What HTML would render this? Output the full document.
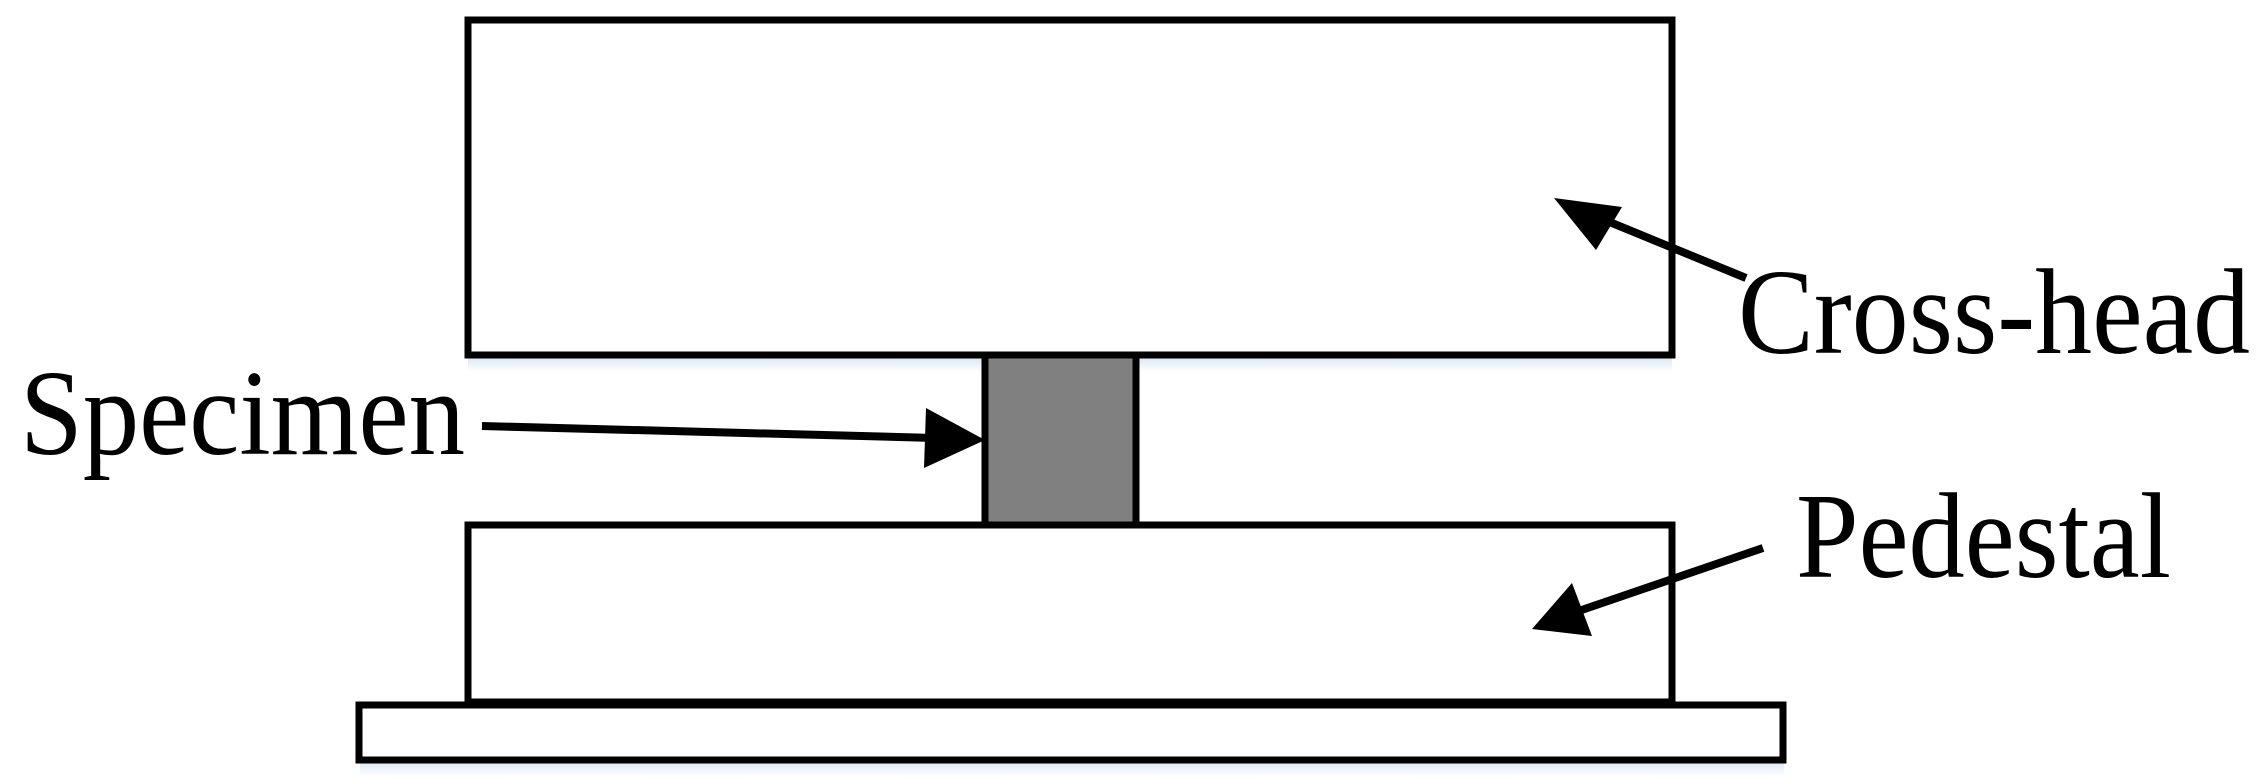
<!DOCTYPE html>
<html><head><meta charset="utf-8"><style>html,body{margin:0;padding:0;background:#fff}svg{display:block}</style></head>
<body>
<svg width="2262" height="782" viewBox="0 0 2262 782" xmlns="http://www.w3.org/2000/svg">
<defs>
<linearGradient id="sh" x1="0" y1="0" x2="0" y2="1"><stop offset="0" stop-color="#dce8f5"/><stop offset="1" stop-color="#ffffff"/></linearGradient>
</defs>
<rect x="468" y="358" width="1204" height="14" fill="url(#sh)"/>
<rect x="360" y="762" width="1424" height="14" fill="url(#sh)"/>
<g fill="#fff" stroke="#000" stroke-width="7">
<rect x="468" y="20" width="1204" height="335"/>
<rect x="468" y="525" width="1204" height="177"/>
<rect x="359" y="705" width="1424" height="55"/>
</g>
<rect x="985" y="355" width="151" height="170" fill="#808080" stroke="#000" stroke-width="7"/>
<g stroke="#000" stroke-width="8">
<line x1="1746" y1="278" x2="1590" y2="214"/>
<line x1="482" y1="426" x2="935" y2="438"/>
<line x1="1763" y1="548" x2="1570" y2="614"/>
</g>
<g fill="#000">
<polygon points="1554,198 1622,207 1596,250"/>
<polygon points="985,440 926,408 924,468"/>
<polygon points="1532,629 1572,583 1592,636"/>
</g>
<g font-family="'Liberation Serif', serif" font-size="122" fill="#000">
<text x="1738" y="353" textLength="512" lengthAdjust="spacingAndGlyphs">Cross-head</text>
<text x="20" y="454" textLength="445" lengthAdjust="spacingAndGlyphs">Specimen</text>
<text x="1796" y="577" textLength="375" lengthAdjust="spacingAndGlyphs">Pedestal</text>
</g>
</svg>
</body></html>
